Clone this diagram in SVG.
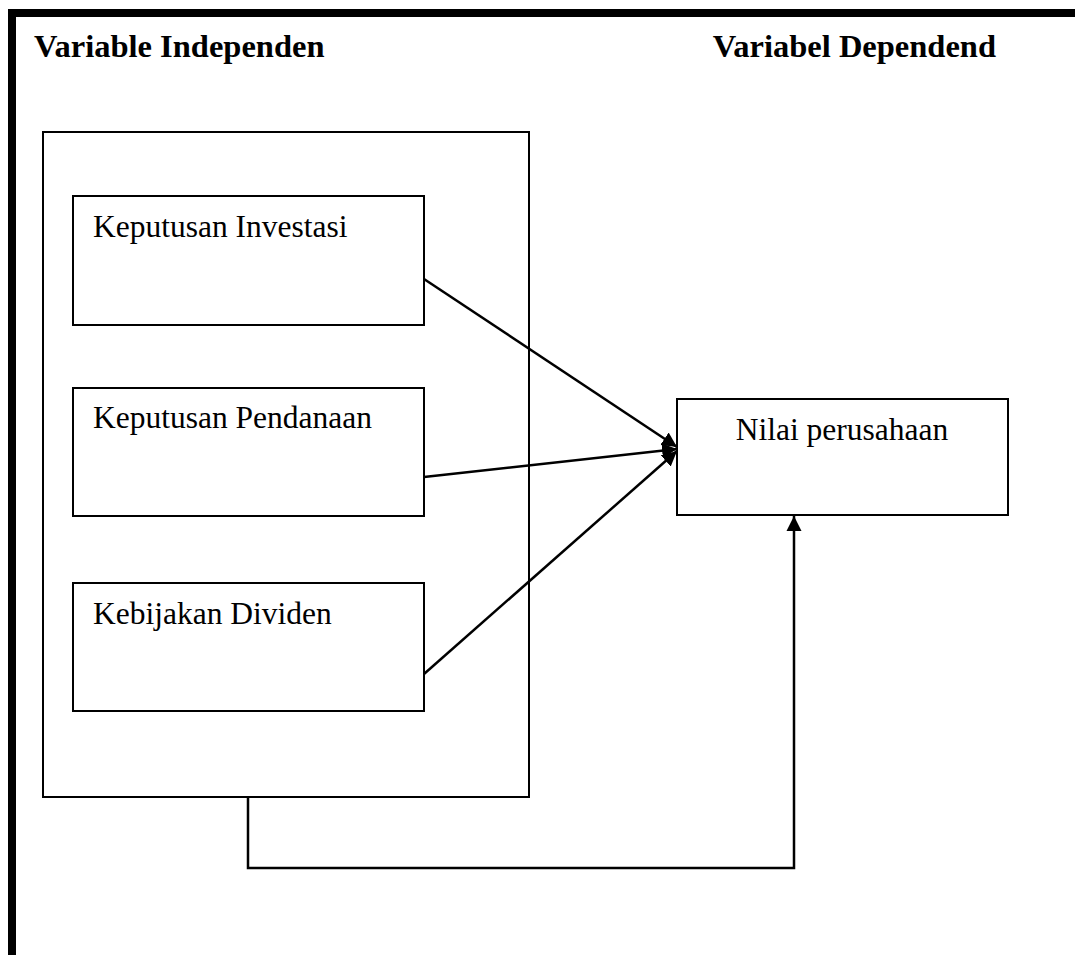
<svg xmlns="http://www.w3.org/2000/svg" width="1075" height="955" viewBox="0 0 1075 955">
<style>
.box{fill:#fff;stroke:#000;stroke-width:2}
.hd{font-family:"Liberation Serif",serif;font-weight:bold;font-size:32.5px;fill:#000}
.tx{font-family:"Liberation Serif",serif;font-size:31.5px;fill:#000}
.cn{fill:none;stroke:#000;stroke-width:2.5}
</style>
<defs>
<marker id="ah" markerUnits="userSpaceOnUse" markerWidth="16" markerHeight="16" viewBox="0 0 16 16" refX="15" refY="8" orient="auto">
<path d="M0,0.5 L15,8 L0,15.5 z" fill="#000"/>
</marker>
</defs>
<rect width="1075" height="955" fill="#fff"/>
<g id="frame">
<rect x="8" y="9" width="1067" height="8" fill="#000"/>
<rect x="8" y="9" width="8" height="946" fill="#000"/>
</g>
<g id="title-left"><text class="hd" x="34" y="57">Variable Independen</text></g>
<g id="title-right"><text class="hd" x="996" y="57" text-anchor="end">Variabel Dependend</text></g>
<g id="independent-group"><rect class="box" x="43" y="132" width="486" height="665"/></g>
<g id="keputusan-investasi"><rect class="box" x="73" y="196" width="351" height="129"/><text class="tx" x="93" y="237">Keputusan Investasi</text></g>
<g id="keputusan-pendanaan"><rect class="box" x="73" y="388" width="351" height="128"/><text class="tx" x="93" y="428">Keputusan Pendanaan</text></g>
<g id="kebijakan-dividen"><rect class="box" x="73" y="583" width="351" height="128"/><text class="tx" x="93" y="624">Kebijakan Dividen</text></g>
<g id="nilai-perusahaan"><rect class="box" x="677" y="399" width="331" height="116"/><text class="tx" x="842" y="440" text-anchor="middle">Nilai perusahaan</text></g>
<g id="connectors">
<line class="cn" x1="424" y1="279" x2="677" y2="447" marker-end="url(#ah)"/>
<line class="cn" x1="424" y1="477" x2="677" y2="449" marker-end="url(#ah)"/>
<line class="cn" x1="424" y1="674" x2="677" y2="451" marker-end="url(#ah)"/>
<polyline class="cn" points="248,797 248,868 794,868 794,516" marker-end="url(#ah)"/>
</g>
</svg>
